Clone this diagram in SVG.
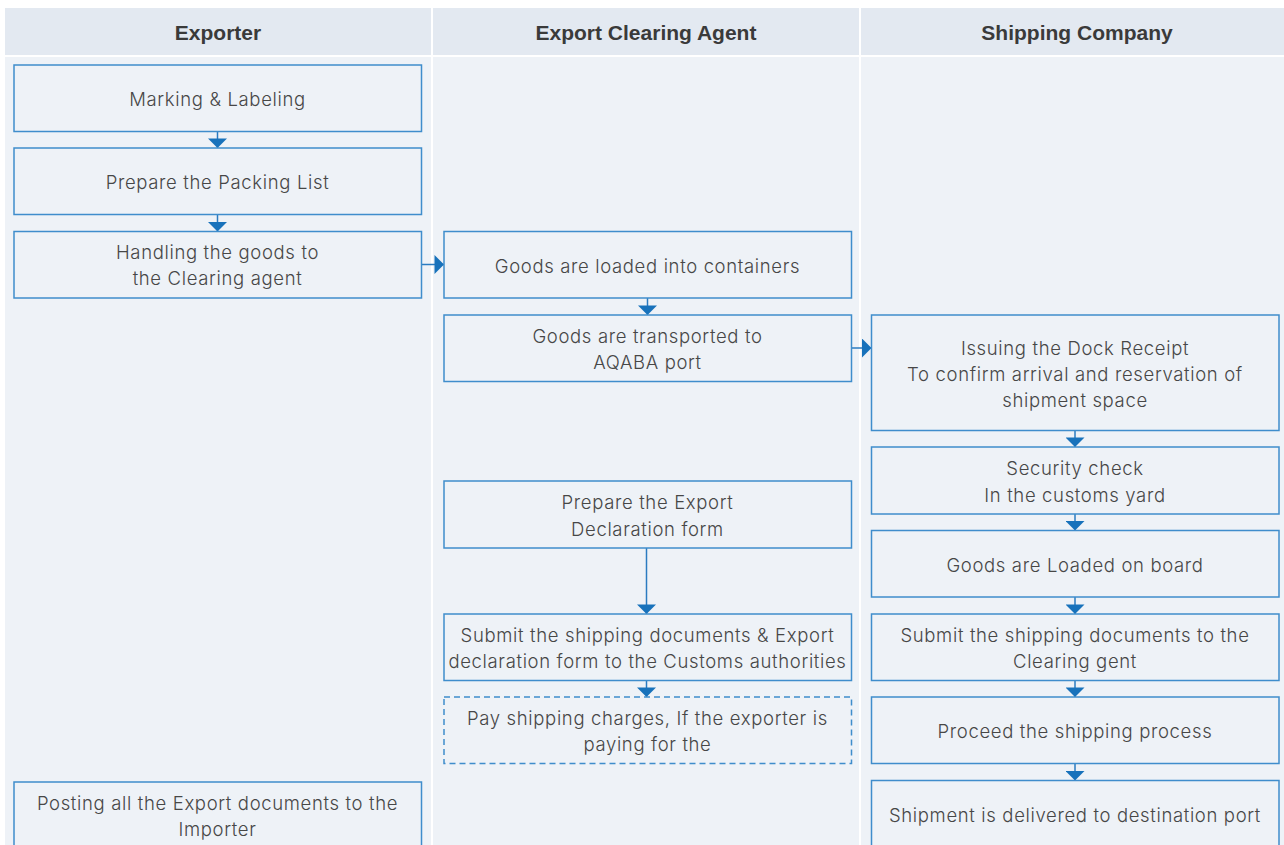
<svg xmlns="http://www.w3.org/2000/svg" width="1284" height="845" viewBox="0 0 1284 845">
<style>
.hdr{fill:#e3e9f1}
.lane{fill:#eef2f7}
.ht{font-family:"Liberation Sans",Arial,sans-serif;font-weight:bold;font-size:21px;fill:#3a3a3a;text-anchor:middle}
.box{fill:#eef2f7;stroke:#3f8dcc;stroke-width:1.5}
.dash{stroke-dasharray:6 4}
.t{font-family:Inter,"Liberation Sans",sans-serif;font-weight:300;font-size:18.5px;letter-spacing:0.65px;fill:#474747;text-anchor:middle}
.c{fill:none;stroke:#2a7bc0;stroke-width:1.5}
</style>
<defs>
<marker id="ah" viewBox="0 0 10 20" markerWidth="10.5" markerHeight="19" refX="10" refY="10" markerUnits="userSpaceOnUse" orient="auto">
<path d="M0,0 L10,10 L0,20 z" fill="#1872bb"/>
</marker>
</defs>
<rect width="1284" height="845" fill="#ffffff"/>
<g id="lanes">
<rect class="hdr" x="5" y="8" width="426" height="47"/>
<rect class="hdr" x="433" y="8" width="426" height="47"/>
<rect class="hdr" x="861" y="8" width="423" height="47"/>
<rect class="lane" x="5" y="57" width="426" height="788"/>
<rect class="lane" x="433" y="57" width="426" height="788"/>
<rect class="lane" x="861" y="57" width="423" height="788"/>
<text class="ht" x="218" y="40">Exporter</text>
<text class="ht" x="646" y="40">Export Clearing Agent</text>
<text class="ht" x="1077" y="40">Shipping Company</text>
</g>
<g id="connectors">
<path class="c" d="M217.5,131.5 V148" marker-end="url(#ah)"/>
<path class="c" d="M217.5,214.5 V231.5" marker-end="url(#ah)"/>
<path class="c" d="M421.5,264.5 H444" marker-end="url(#ah)"/>
<path class="c" d="M647.5,298 V315" marker-end="url(#ah)"/>
<path class="c" d="M851.5,348 H871.5" marker-end="url(#ah)"/>
<path class="c" d="M1075,430.5 V447" marker-end="url(#ah)"/>
<path class="c" d="M1075,514 V530.5" marker-end="url(#ah)"/>
<path class="c" d="M1075,597 V614" marker-end="url(#ah)"/>
<path class="c" d="M1075,680 V697" marker-end="url(#ah)"/>
<path class="c" d="M1075,763.5 V780.5" marker-end="url(#ah)"/>
<path class="c" d="M646.5,548 V614" marker-end="url(#ah)"/>
<path class="c" d="M646.5,680 V697" marker-end="url(#ah)"/>
</g>
<g id="n1"><rect class="box" x="14" y="65" width="407.5" height="66.5"/><text class="t" x="217.5" y="106">Marking &amp; Labeling</text></g>
<g id="n2"><rect class="box" x="14" y="148" width="407.5" height="66.5"/><text class="t" x="217.5" y="189">Prepare the Packing List</text></g>
<g id="n3"><rect class="box" x="14" y="231.5" width="407.5" height="66.5"/><text class="t" x="217.5" y="259"><tspan x="217.5" y="259">Handling the goods to</tspan><tspan x="217.5" y="285">the Clearing agent</tspan></text></g>
<g id="n4"><rect class="box" x="14" y="782" width="407.5" height="70"/><text class="t" x="217.5" y="810"><tspan x="217.5" y="810">Posting all the Export documents to the</tspan><tspan x="217.5" y="836">Importer</tspan></text></g>
<g id="n5"><rect class="box" x="444" y="231.5" width="407.5" height="66.5"/><text class="t" x="647.5" y="272.5">Goods are loaded into containers</text></g>
<g id="n6"><rect class="box" x="444" y="315" width="407.5" height="66.5"/><text class="t" x="647.5" y="343"><tspan x="647.5" y="343">Goods are transported to</tspan><tspan x="647.5" y="369">AQABA port</tspan></text></g>
<g id="n7"><rect class="box" x="444" y="481" width="407.5" height="67"/><text class="t" x="647.5" y="509"><tspan x="647.5" y="509">Prepare the Export</tspan><tspan x="647.5" y="535.5">Declaration form</tspan></text></g>
<g id="n8"><rect class="box" x="444" y="614" width="407.5" height="66.5"/><text class="t" x="647.5" y="642"><tspan x="647.5" y="642">Submit the shipping documents &amp; Export</tspan><tspan x="647.5" y="668">declaration form to the Customs authorities</tspan></text></g>
<g id="n9"><rect class="box dash" x="444" y="697" width="407.5" height="66.5"/><text class="t" x="647.5" y="725"><tspan x="647.5" y="725">Pay shipping charges, If the exporter is</tspan><tspan x="647.5" y="751">paying for the</tspan></text></g>
<g id="n10"><rect class="box" x="871.5" y="315" width="407.5" height="115.5"/><text class="t" x="1075" y="354.5"><tspan x="1075" y="354.5">Issuing the Dock Receipt</tspan><tspan x="1075" y="380.5">To confirm arrival and reservation of</tspan><tspan x="1075" y="406.5">shipment space</tspan></text></g>
<g id="n11"><rect class="box" x="871.5" y="447" width="407.5" height="67"/><text class="t" x="1075" y="475"><tspan x="1075" y="475">Security check</tspan><tspan x="1075" y="501.5">In the customs yard</tspan></text></g>
<g id="n12"><rect class="box" x="871.5" y="530.5" width="407.5" height="66.5"/><text class="t" x="1075" y="571.5">Goods are Loaded on board</text></g>
<g id="n13"><rect class="box" x="871.5" y="614" width="407.5" height="66.5"/><text class="t" x="1075" y="642"><tspan x="1075" y="642">Submit the shipping documents to the</tspan><tspan x="1075" y="668">Clearing gent</tspan></text></g>
<g id="n14"><rect class="box" x="871.5" y="697" width="407.5" height="66.5"/><text class="t" x="1075" y="738">Proceed the shipping process</text></g>
<g id="n15"><rect class="box" x="871.5" y="780.5" width="407.5" height="70"/><text class="t" x="1075" y="821.5">Shipment is delivered to destination port</text></g>
</svg>
